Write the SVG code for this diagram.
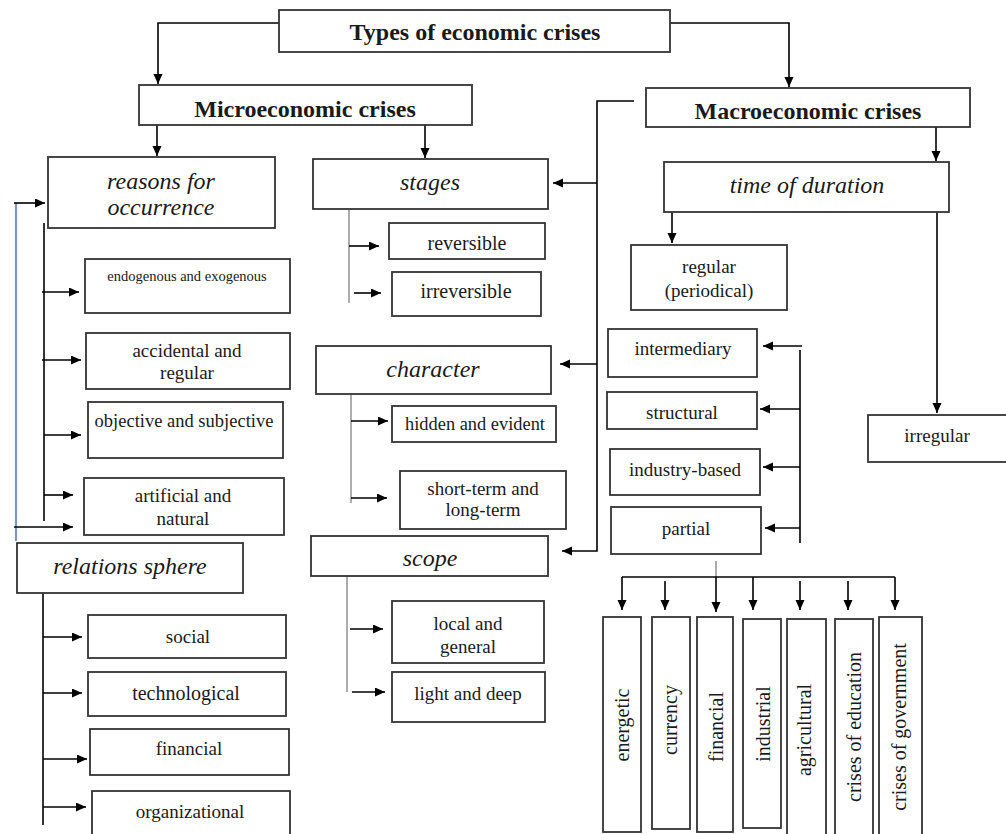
<svg xmlns="http://www.w3.org/2000/svg" width="1006" height="834" viewBox="0 0 1006 834">
<defs>
<marker id="ah" markerUnits="userSpaceOnUse" markerWidth="11" markerHeight="10" refX="10" refY="4.5" orient="auto">
<path d="M0,0 L10,4.5 L0,9 z" fill="#000"/>
</marker>
<style>
.box{fill:#fff;stroke:#333;stroke-width:1.8}
.t{font-family:"Liberation Serif","Times New Roman",serif;fill:#1a1a1a;text-anchor:middle}
.b{font-weight:bold;font-size:24px}
.i{font-style:italic;font-size:24px}
.n{font-size:19px}
.c{fill:none;stroke:#000;stroke-width:1.6}
.g{fill:none;stroke:#999;stroke-width:1.6}
.bl{fill:none;stroke:#7b98c2;stroke-width:2.2}
.a{marker-end:url(#ah)}
</style>
</defs>
<rect width="1006" height="834" fill="#fff"/>

<g id="connectors">
<path class="c a" d="M279,23 H158 V84"/>
<path class="c a" d="M670,23 H789 V87"/>
<path class="c a" d="M157,125 V156"/>
<path class="c a" d="M425,124 V158"/>
<path class="c a" d="M936,127 V161"/>
<path class="c a" d="M634,101 H597 V551 H562"/>
<path class="c a" d="M597,183 H553"/>
<path class="c a" d="M597,364 H560"/>
<path class="c a" d="M672,212 V243"/>
<path class="c a" d="M937,212 V413"/>
<path class="c" d="M800,350 V543"/>
<path class="c a" d="M802,346 H763"/>
<path class="c a" d="M800,409 H760"/>
<path class="c a" d="M800,467 H763"/>
<path class="c a" d="M800,528 H765"/>
<path class="g" d="M716,561 V577"/>
<path class="c" d="M622,577 H895"/>
<path class="c a" d="M622,577 V610"/>
<path class="c a" d="M665,581 V610"/>
<path class="c a" d="M716,577 V612"/>
<path class="c a" d="M753,577 V610"/>
<path class="c a" d="M800,581 V610"/>
<path class="c a" d="M848,581 V610"/>
<path class="c a" d="M895,577 V610"/>
<path class="g" d="M349,209 V303"/>
<path class="c a" d="M349,246 H379"/>
<path class="c a" d="M354,293 H381"/>
<path class="g" d="M351,394 V503"/>
<path class="c a" d="M351,421 H388"/>
<path class="c a" d="M351,498 H387"/>
<path class="g" d="M347,576 V692"/>
<path class="c a" d="M350,629 H383"/>
<path class="c a" d="M352,692 H385"/>
<path class="c" d="M44,223 V521"/>
<path class="c a" d="M42,292 H79"/>
<path class="c a" d="M42,360 H81"/>
<path class="c a" d="M44,435 H81"/>
<path class="c a" d="M44,495 H73"/>
<path class="bl" d="M16,203 V541"/>
<path class="c a" d="M14,203 H45"/>
<path class="c a" d="M14,527 H73"/>
<path class="c" d="M43,593 V825"/>
<path class="c a" d="M43,637 H82"/>
<path class="c a" d="M43,693 H82"/>
<path class="c a" d="M43,759 H87"/>
<path class="c a" d="M43,807 H86"/>
</g>

<g id="n-title"><rect class="box" x="279" y="10" width="391" height="42"/><text class="t b" x="475" y="40">Types of economic crises</text></g>
<g id="n-micro"><rect class="box" x="139" y="85" width="333" height="40"/><text class="t b" x="305" y="117">Microeconomic crises</text></g>
<g id="n-macro"><rect class="box" x="646" y="88" width="324" height="39"/><text class="t b" x="808" y="119">Macroeconomic crises</text></g>

<g id="n-reasons"><rect class="box" x="48" y="157" width="227" height="71"/><text class="t i" x="161" y="189">reasons for</text><text class="t i" x="161" y="215">occurrence</text></g>
<g id="n-endo"><rect class="box" x="85" y="259" width="205" height="54"/><text class="t" style="font-size:14.5px" x="187" y="281">endogenous and exogenous</text></g>
<g id="n-accidental"><rect class="box" x="86" y="333" width="204" height="56"/><text class="t n" x="187" y="357">accidental and</text><text class="t n" x="187" y="379">regular</text></g>
<g id="n-objective"><rect class="box" x="88" y="402" width="195" height="56"/><text class="t" style="font-size:18.5px" x="184" y="427">objective and subjective</text></g>
<g id="n-artificial"><rect class="box" x="84" y="478" width="200" height="57"/><text class="t n" x="183" y="502">artificial and</text><text class="t n" x="183" y="525">natural</text></g>

<g id="n-relations"><rect class="box" x="17" y="543" width="226" height="50"/><text class="t i" x="130" y="574">relations sphere</text></g>
<g id="n-social"><rect class="box" x="88" y="615" width="198" height="43"/><text class="t n" x="188" y="643">social</text></g>
<g id="n-tech"><rect class="box" x="88" y="672" width="198" height="44"/><text class="t" style="font-size:20px" x="186" y="700">technological</text></g>
<g id="n-fin1"><rect class="box" x="90" y="729" width="199" height="46"/><text class="t n" x="189" y="755">financial</text></g>
<g id="n-org"><rect class="box" x="92" y="791" width="198" height="50"/><text class="t n" x="190" y="818">organizational</text></g>

<g id="n-stages"><rect class="box" x="313" y="159" width="235" height="50"/><text class="t i" x="430" y="190">stages</text></g>
<g id="n-reversible"><rect class="box" x="389" y="223" width="156" height="36"/><text class="t" style="font-size:20px" x="467" y="250">reversible</text></g>
<g id="n-irreversible"><rect class="box" x="392" y="272" width="149" height="44"/><text class="t" style="font-size:20px" x="466" y="298">irreversible</text></g>

<g id="n-character"><rect class="box" x="316" y="346" width="235" height="48"/><text class="t i" x="433" y="377">character</text></g>
<g id="n-hidden"><rect class="box" x="392" y="406" width="164" height="36"/><text class="t" style="font-size:18.4px" x="475" y="430">hidden and evident</text></g>
<g id="n-short"><rect class="box" x="400" y="471" width="166" height="58"/><text class="t n" x="483" y="495">short-term and</text><text class="t n" x="483" y="516">long-term</text></g>

<g id="n-scope"><rect class="box" x="311" y="536" width="237" height="40"/><text class="t i" x="430" y="566">scope</text></g>
<g id="n-local"><rect class="box" x="392" y="601" width="152" height="62"/><text class="t n" x="468" y="630">local and</text><text class="t n" x="468" y="653">general</text></g>
<g id="n-light"><rect class="box" x="392" y="672" width="153" height="50"/><text class="t n" x="468" y="700">light and deep</text></g>

<g id="n-time"><rect class="box" x="664" y="162" width="285" height="50"/><text class="t i" x="807" y="193">time of duration</text></g>
<g id="n-regular"><rect class="box" x="631" y="245" width="156" height="65"/><text class="t n" x="709" y="273">regular</text><text class="t n" x="709" y="297">(periodical)</text></g>
<g id="n-irregular"><rect class="box" x="868" y="415" width="145" height="47"/><text class="t n" x="937" y="442">irregular</text></g>
<g id="n-intermediary"><rect class="box" x="608" y="329" width="149" height="48"/><text class="t n" x="683" y="355">intermediary</text></g>
<g id="n-structural"><rect class="box" x="607" y="392" width="150" height="37"/><text class="t n" x="682" y="419">structural</text></g>
<g id="n-industry"><rect class="box" x="610" y="449" width="150" height="46"/><text class="t n" x="685" y="476">industry-based</text></g>
<g id="n-partial"><rect class="box" x="611" y="507" width="150" height="47"/><text class="t n" x="686" y="535">partial</text></g>

<g id="n-energetic"><rect class="box" x="603" y="617" width="38" height="215"/><text class="t" style="font-size:20px" transform="translate(629,725) rotate(-90)">energetic</text></g>
<g id="n-currency"><rect class="box" x="652" y="617" width="38" height="212"/><text class="t" style="font-size:20px" transform="translate(677,720) rotate(-90)">currency</text></g>
<g id="n-financial"><rect class="box" x="697" y="617" width="36" height="215"/><text class="t" style="font-size:20px" transform="translate(723,727) rotate(-90)">financial</text></g>
<g id="n-industrial"><rect class="box" x="743" y="619" width="38" height="209"/><text class="t" style="font-size:20px" transform="translate(770,724) rotate(-90)">industrial</text></g>
<g id="n-agricultural"><rect class="box" x="787" y="619" width="39" height="220"/><text class="t" style="font-size:20px" transform="translate(811,730) rotate(-90)">agricultural</text></g>
<g id="n-education"><rect class="box" x="835" y="619" width="38" height="220"/><text class="t" style="font-size:20px" transform="translate(861,727) rotate(-90)">crises of education</text></g>
<g id="n-government"><rect class="box" x="879" y="617" width="43" height="222"/><text class="t" style="font-size:20px" transform="translate(906,727) rotate(-90)">crises of government</text></g>
</svg>
